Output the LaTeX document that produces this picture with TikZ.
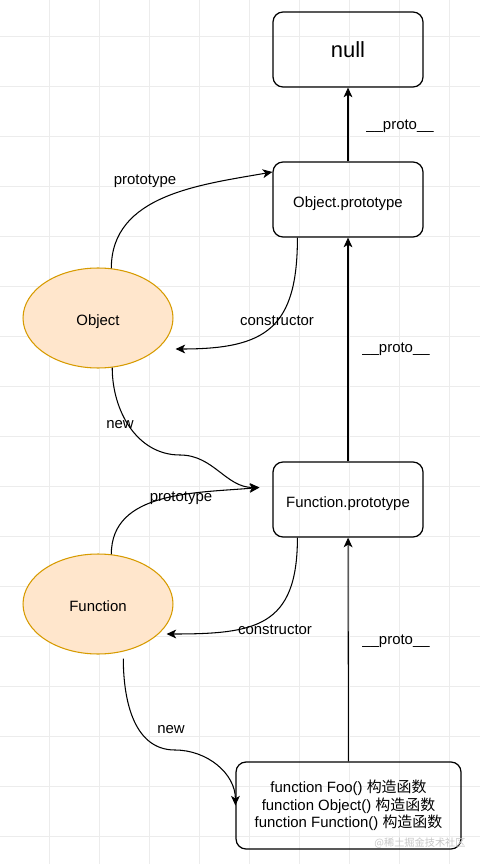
\documentclass[tikz,border=0pt]{standalone}
\usepackage{fontspec}
\setmainfont{Liberation Sans}
\newfontfamily\cjk{Noto Sans CJK SC}
\usetikzlibrary{calc,shapes.geometric,arrows.meta}

\definecolor{fnfill}{HTML}{FFE6CC}
\definecolor{fnline}{HTML}{D79B00}
\definecolor{gridgray}{HTML}{ECECEC}

\tikzset{
    box/.style={draw, rounded corners=0.2cm, minimum width=3cm, minimum height=1.5cm, inner sep=0pt, line width=0.7pt, font=\fontsize{8.5}{8.5}\selectfont},
    func/.style={ellipse, draw=fnline, fill=fnfill, line width=0.6pt, minimum width=3cm, minimum height=2cm, inner sep=0pt, font=\fontsize{8.5}{8.5}\selectfont},
    lowtext/.style={text height=1.1em, text depth=0.22em},
    lbl/.style={inner sep=0pt, font=\fontsize{8.5}{8.5}\selectfont},
    link/.style={draw, -{Stealth[length=5.5pt, width=5pt, inset=1.5pt]}, line width=0.6pt},
}

\begin{document}
\begin{tikzpicture}[x=0.02cm, y=-0.02cm]
        % page and grid
        \useasboundingbox (0,0) rectangle (480,864);
        \fill[white](0,0)rectangle(480,864);
        \foreach \x in {49,99,...,449}
        {
            \path[draw, gridgray, line width=0.5pt](\x,0)to(\x,864);
        }
        \foreach \y in {36,86,...,836}
        {
            \path[draw, gridgray, line width=0.5pt](0,\y)to(480,\y);
        }
        % boxes
        \node[box, font=\fontsize{12.5}{14}\selectfont](null)at(348,49.5){null};
        \node[box, lowtext](oproto)at(348,199.5){Object.prototype};
        \node[box, lowtext](fproto)at(348,499.5){Function.prototype};
        \node[box, minimum width=4.5cm, minimum height=1.74cm, align=center](ctors)at(348.5,805.5){function Foo() {\cjk 构造函数}\\function Object() {\cjk 构造函数}\\function Function() {\cjk 构造函数}};
        % constructors
        \node[func, lowtext](obj)at(98,318){Object};
        \node[func, lowtext](fn)at(98,604){Function};
        \coordinate(fin)at($(fproto.west)+(-13,-12)$);
        % __proto__ chain
        \path[link](oproto)to(null);
        \path[link](fproto)to(oproto);
        \path[link](ctors)to(fproto);
        \node[lbl](u1)at(400,126){\_\_proto\_\_};
        \node[lbl](u2)at(396,349){\_\_proto\_\_};
        \node[lbl](u3)at(396,641){\_\_proto\_\_};
        % Object
        \path[link](obj.75)to[out=90, in=190](oproto.160);
        \path[link](oproto.217)to[out=-90, in=0, looseness=1.4]($(obj.east)+(2,31)$);
        \path[link](obj.-74)to[out=-90, in=180](180,455)to[out=0, in=180](fin);
        \node[lbl](p1)at(145,181){prototype};
        \node[lbl](c1)at(277,321){constructor};
        \node[lbl](n1)at(120,425){new};
        % Function
        \path[link](fn.75)to[out=90, in=185](fin);
        \path[link](fproto.217)to[out=-90, in=0, looseness=1.4]($(fn.east)+(-7,30)$);
        \path[link, shorten <=4pt](fn.-62)to[out=-90, in=180](175,750)to[out=0, in=90](ctors.west);
        \node[lbl](p2)at(181,498){prototype};
        \node[lbl](c2)at(275,630){constructor};
        \node[lbl](n2)at(171,730){new};
        % watermark
        \node[inner sep=0pt, text=black!22, font=\fontsize{5.8}{6}\selectfont\cjk](mark)at(420,843){@稀土掘金技术社区};
    \end{tikzpicture}
\end{document}
